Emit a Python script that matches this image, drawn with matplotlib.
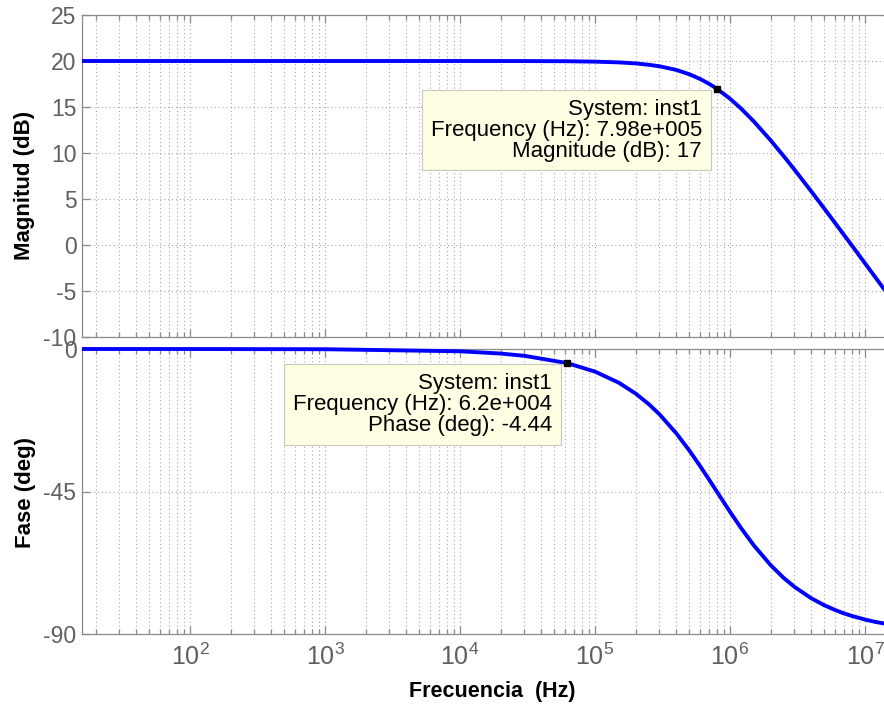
import matplotlib
matplotlib.use("Agg")
import matplotlib.pyplot as plt
from matplotlib.ticker import LogLocator, NullFormatter, FixedLocator

plt.rcParams['font.family'] = ['Liberation Sans', 'DejaVu Sans']
plt.rcParams['mathtext.fontset'] = 'custom'
plt.rcParams['mathtext.rm'] = 'Liberation Sans'
plt.rcParams['mathtext.it'] = 'Liberation Sans'
plt.rcParams['mathtext.bf'] = 'Liberation Sans:bold'
plt.rcParams['axes.unicode_minus'] = False

# ---- data ----
freq_hz = [15.85, 1e2, 1e3, 1e4, 2e4, 3e4, 6.2e4, 1e5, 1.5e5, 2e5, 2.5e5, 3e5, 4e5, 5e5,
           6e5, 7e5, 7.98e5, 1e6, 1.2e6, 1.5e6, 2e6, 2.5e6, 3e6, 4e6, 5e6, 6e6, 7e6,
           8e6, 1e7, 1.2e7, 1.585e7]
mag_db = [20.0, 20.0, 20.0, 19.999, 19.997, 19.994, 19.974, 19.93, 19.85, 19.74, 19.59,
          19.43, 19.03, 18.56, 18.05, 17.52, 17.0, 15.90, 14.87, 13.44, 11.38, 9.66,
          8.20, 5.83, 3.95, 2.40, 1.08, -0.06, -1.99, -3.56, -5.97]
phase_deg = [-0.001, -0.007, -0.072, -0.718, -1.436, -2.153, -4.44, -7.14, -10.64, -14.07,
             -17.40, -20.6, -26.62, -32.07, -36.94, -41.26, -45.0, -51.41, -56.38, -61.99,
             -68.25, -72.30, -75.10, -78.72, -80.93, -82.42, -83.50, -84.30, -85.44,
             -86.20, -87.12]

mag_ticks = [-10, -5, 0, 5, 10, 15, 20, 25]
phase_ticks = [-90, -45, 0]
freq_ticks = [1e2, 1e3, 1e4, 1e5, 1e6, 1e7]
x_limits = (10 ** 1.2, 10 ** 7.2)

tip_mag = (7.98e5, 17.0, "System: inst1\nFrequency (Hz): 7.98e+005\nMagnitude (dB): 17")
tip_phase = (6.2e4, -4.44, "System: inst1\nFrequency (Hz): 6.2e+004\nPhase (deg): -4.44")

# ---- figure ----
W, H = 884, 709
fig = plt.figure(figsize=(W / 100, H / 100), dpi=100)
fig.patch.set_facecolor('white')

ax1 = fig.add_axes([82 / W, (H - 337) / H, 810 / W, 322 / H])
ax2 = fig.add_axes([82 / W, (H - 634) / H, 810 / W, 285 / H])

line_color = '#0000ff'
spine_color = '#8a8a8a'
label_color = '#5f5f5f'
grid_color = '#a8a8a8'
grid_style = (0, (1, 2.5))

ax1.plot(freq_hz, mag_db, color=line_color, lw=2.8, solid_capstyle='butt', zorder=3)
ax2.plot(freq_hz, phase_deg, color=line_color, lw=2.8, solid_capstyle='butt', zorder=3,
         clip_on=False)

for ax in (ax1, ax2):
    ax.set_xscale('log')
    ax.set_xlim(*x_limits)
    ax.xaxis.set_major_locator(FixedLocator(freq_ticks))
    ax.xaxis.set_minor_locator(LogLocator(base=10, subs=range(2, 10), numticks=200))
    ax.xaxis.set_minor_formatter(NullFormatter())
    ax.grid(True, which='major', axis='both', ls=grid_style, lw=0.8, color=grid_color)
    ax.grid(True, which='minor', axis='x', ls=grid_style, lw=0.8, color=grid_color)
    ax.set_axisbelow(True)
    for s in ax.spines.values():
        s.set_color(spine_color)
        s.set_linewidth(0.9)
    ax.tick_params(which='major', direction='in', length=6, width=0.9, color=spine_color,
                   labelcolor=label_color, labelsize=16.5, top=True, right=True, pad=4)
    ax.tick_params(which='minor', direction='in', length=3.5, width=0.9, color=spine_color,
                   top=True, right=True)

ax1.set_ylim(mag_ticks[0], mag_ticks[-1])
ax1.yaxis.set_major_locator(FixedLocator(mag_ticks))
ax1.tick_params(labelbottom=False)

ax2.set_ylim(phase_ticks[0], phase_ticks[-1])
ax2.yaxis.set_major_locator(FixedLocator(phase_ticks))
ax2.tick_params(axis='x', labelsize=18, pad=7)

# data tips
for ax, (fx, fy, txt) in ((ax1, tip_mag), (ax2, tip_phase)):
    ax.plot([fx], [fy], marker='s', ms=5, color='black', zorder=5, clip_on=False)
    ax.annotate(txt, xy=(fx, fy), xytext=(-15, -10), textcoords='offset pixels',
                ha='right', va='top', multialignment='right', fontsize=16, color='black',
                linespacing=1.0, zorder=6,
                bbox=dict(boxstyle='square,pad=0.4', fc='#ffffe4', ec='#c8c8c0', lw=0.8))

# labels
fig.text(25 / W, 1 - 185 / H, 'Magnitud (dB)', rotation=90, ha='center', va='center',
         fontsize=16, fontweight='bold', color='black')
fig.text(25 / W, 1 - 492 / H, 'Fase (deg)', rotation=90, ha='center', va='center',
         fontsize=16, fontweight='bold', color='black')
fig.text(492 / W, 1 - 692 / H, 'Frecuencia  (Hz)', ha='center', va='center',
         fontsize=15.5, fontweight='bold', color='black')

fig.savefig('out.png', dpi=100, facecolor='white')
